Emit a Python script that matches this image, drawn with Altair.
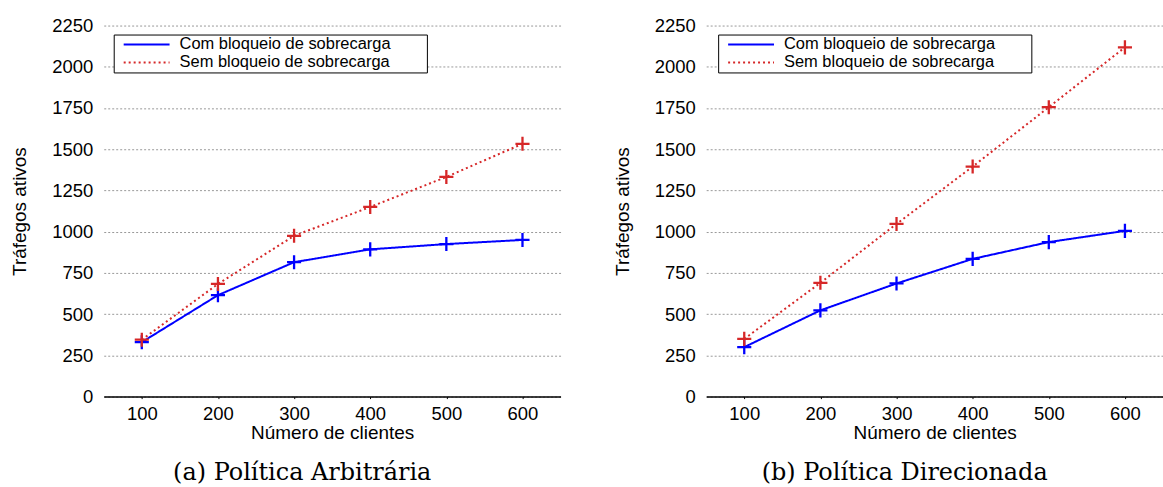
import altair as alt
import pandas as pd

clients = [100, 200, 300, 400, 500, 600]
arb_com = [330, 615, 815, 893, 925, 950]
arb_sem = [345, 683, 975, 1150, 1332, 1533]
dir_com = [300, 523, 686, 835, 937, 1005]
dir_sem = [350, 690, 1047, 1395, 1755, 2118]
series_names = ["Com bloqueio de sobrecarga", "Sem bloqueio de sobrecarga"]
series_colors = ["#0000ff", "#d62728"]
y_ticks = [0, 250, 500, 750, 1000, 1250, 1500, 1750, 2000, 2250]
x_ticks = [100, 200, 300, 400, 500, 600]
captions = ["(a) Política Arbitrária", "(b) Política Direcionada"]

color_of = dict(zip(series_names, series_colors))


def panel(com, sem, caption, legx):
    df = pd.DataFrame({
        "x": clients + clients,
        "y": com + sem,
        "s": [series_names[0]] * len(clients) + [series_names[1]] * len(clients),
    })
    df["c"] = df["s"].map(color_of)

    leg = alt.Legend(
        orient="none", legendX=legx, legendY=9,
        title=".", titleOrient="right", titleOpacity=0, titleFontSize=8,
        titlePadding=32,
        strokeColor="black", fillColor="white", padding=1, cornerRadius=0,
        symbolType="stroke", symbolSize=2116, symbolStrokeWidth=2,
        clipHeight=18, rowPadding=0, symbolOffset=8, labelOffset=9,
        labelFont="Liberation Sans", labelFontSize=16.5, labelColor="black",
        labelLimit=500,
    )

    x = alt.X("x:Q",
              scale=alt.Scale(domain=[50, 650], nice=False, zero=False),
              axis=alt.Axis(values=x_ticks, title="Número de clientes", grid=False,
                            domainColor="black", domainWidth=1.5, tickColor="black",
                            tickSize=2, labelPadding=6, titlePadding=1, format="d"))
    y = alt.Y("y:Q",
              scale=alt.Scale(domain=[0, 2250], nice=False),
              axis=alt.Axis(values=y_ticks, title="Tráfegos ativos", domain=False,
                            ticks=False, tickSize=0, labelPadding=11, titlePadding=22,
                            grid=True, gridColor="#999999", gridDash=[2, 2],
                            gridWidth=1, format="d"))

    lines = alt.Chart(df).mark_line(strokeWidth=2).encode(
        x=x, y=y,
        color=alt.Color("s:N", scale=alt.Scale(domain=series_names, range=series_colors), legend=leg),
        strokeDash=alt.StrokeDash("s:N", scale=alt.Scale(domain=series_names, range=[[1, 0], [2, 3]]), legend=leg),
    )
    points = alt.Chart(df).mark_point(
        shape="M-1,0H1M0,-1V1", filled=False, strokeWidth=2.3, size=200, opacity=1
    ).encode(
        x=x, y=y,
        color=alt.Color("c:N", scale=None),
    )
    return alt.layer(lines, points).properties(
        width=458, height=372,
        title=alt.TitleParams(text=caption, orient="bottom", font="DejaVu Serif",
                              fontSize=24, fontWeight="normal", color="black",
                              dx=-30, offset=18, anchor="middle"),
    )


chart = alt.hconcat(
    panel(arb_com, arb_sem, captions[0], 10),
    panel(dir_com, dir_sem, captions[1], 12),
    spacing=52,
).resolve_scale(
    color="independent", strokeDash="independent"
).resolve_legend(
    color="independent", strokeDash="independent"
).properties(
    padding={"left": 10, "top": 16, "right": 0, "bottom": 0},
    background="white",
).configure_view(stroke=None).configure_axis(
    labelFont="Liberation Sans", labelFontSize=18.5, labelColor="black",
    titleFont="Liberation Sans", titleFontSize=19, titleFontWeight="normal",
    titleColor="black",
)

chart.save("out.html", embed_options={"renderer": "svg", "actions": False})
